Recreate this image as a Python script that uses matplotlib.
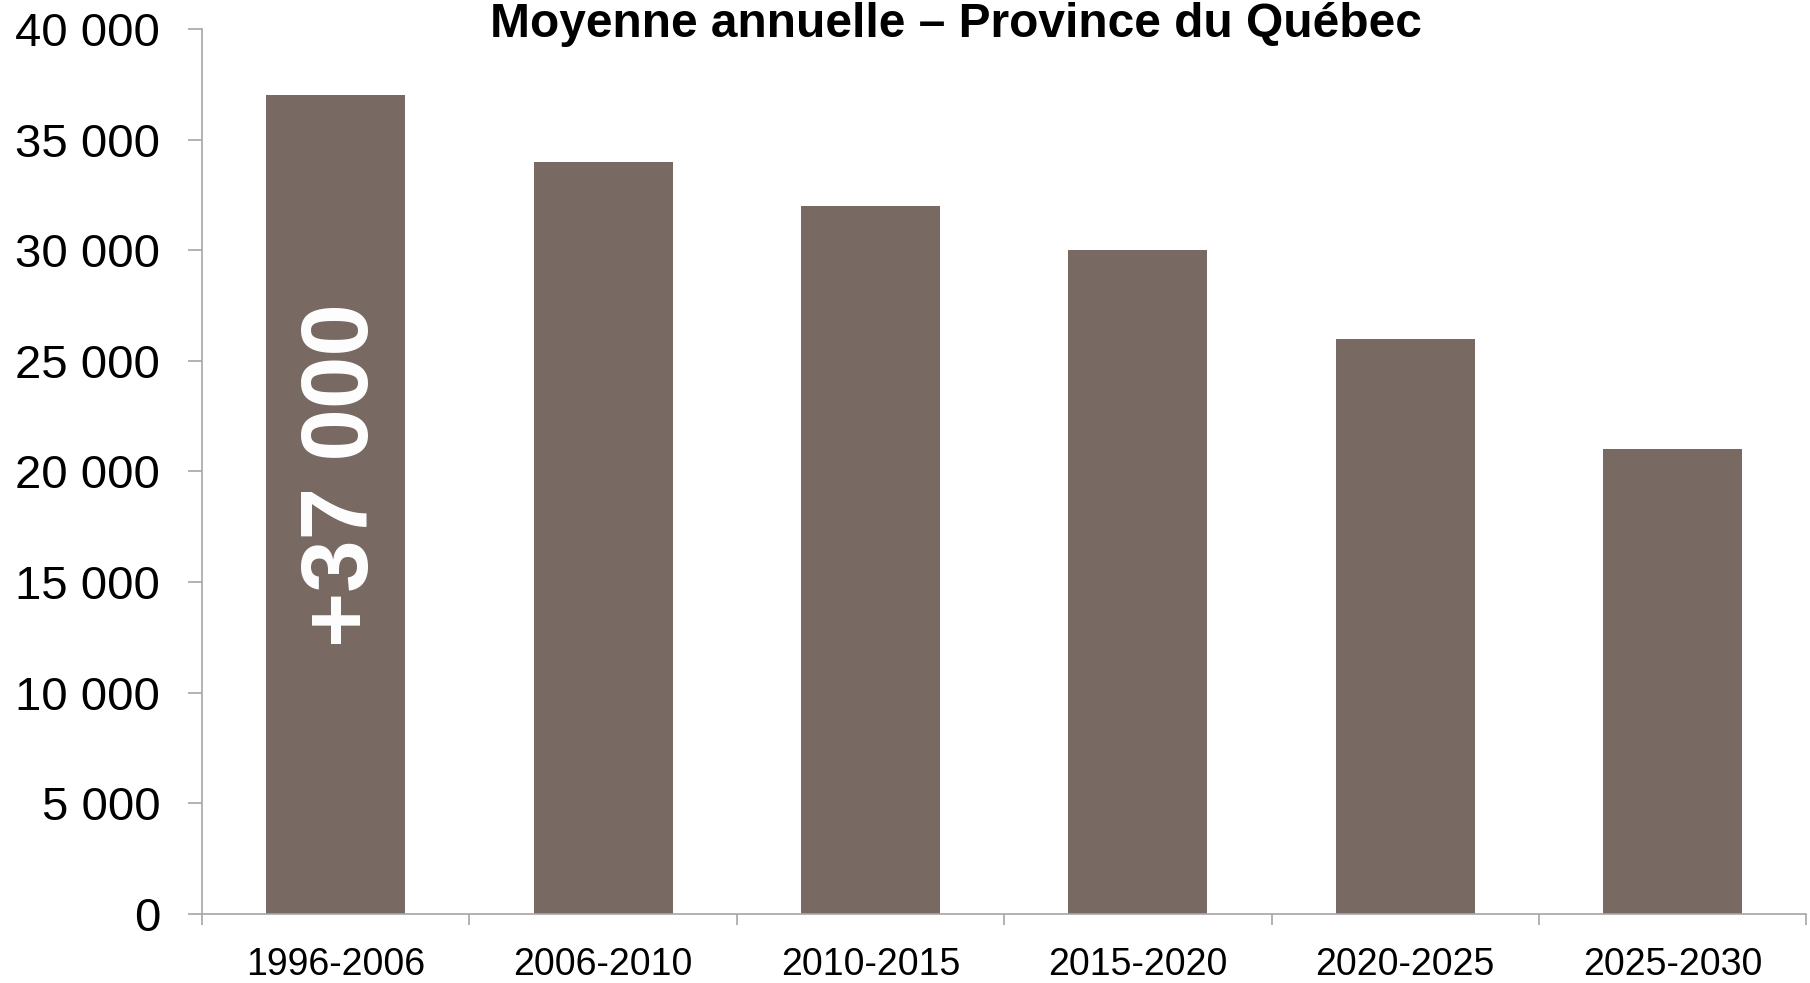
import matplotlib
matplotlib.use("Agg")
import matplotlib.pyplot as plt
from matplotlib.ticker import FuncFormatter, FixedLocator

periods = ["1996-2006", "2006-2010", "2010-2015", "2015-2020", "2020-2025", "2025-2030"]
values = [37000, 34000, 32000, 30000, 26000, 21000]
label_text = "+37 000"
label_value = 19850

bar_color = "#786a62"
axis_color = "#a6a6a6"

plt.rcParams['font.family'] = ["Liberation Sans", "DejaVu Sans"]

fig = plt.figure(figsize=(18.1, 9.83), dpi=100)
ax = fig.add_axes([0.1116, 0.0702, 0.8864, 0.9003])

x = range(len(periods))
ax.bar(x, values, width=0.52, color=bar_color, zorder=2)

ax.set_xlim(-0.5, len(periods) - 0.5)
ax.set_ylim(0, 40000)
ax.set_yticks(range(0, 40001, 5000))
ax.yaxis.set_major_formatter(FuncFormatter(lambda v, p: f"{int(v):,}".replace(",", " ")))

# category labels centred under bars, tick marks on the boundaries
ax.set_xticks(list(x))
ax.set_xticklabels(periods, fontsize=27)
ax.xaxis.set_minor_locator(FixedLocator([i - 0.5 for i in range(len(periods) + 1)]))
ax.tick_params(axis="x", which="major", length=0, pad=24)
ax.tick_params(axis="x", which="minor", length=8, width=1.2, color=axis_color, direction="out")
ax.tick_params(axis="y", length=10, width=1.2, color=axis_color, direction="out", pad=20, labelsize=34)

for s in ["top", "right"]:
    ax.spines[s].set_visible(False)
for s in ["left", "bottom"]:
    ax.spines[s].set_color(axis_color)
    ax.spines[s].set_linewidth(1.2)

ax.text(0.03, label_value, label_text, rotation=90, color="white", fontweight="bold",
        fontsize=68, ha="center", va="center", zorder=3)

fig.text(0.528, 0.998, "Moyenne annuelle \u2013 Province du Québec", ha="center", va="top",
         fontsize=34.5, fontweight="bold")

fig.savefig("out.png", dpi=100)
